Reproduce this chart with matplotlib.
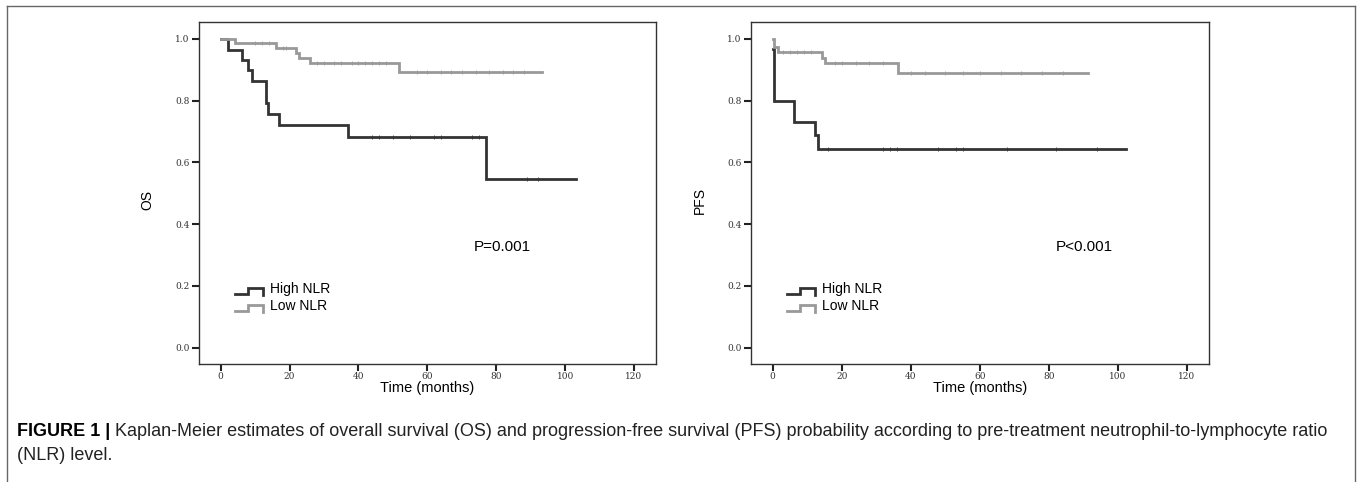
import numpy as np
import matplotlib
matplotlib.use("Agg")
import matplotlib.pyplot as plt
from matplotlib.lines import Line2D

# === data: Kaplan-Meier step curves (time in months, survival probability) ===
os_high_t = [0, 2.0, 6.1, 8.0, 9.0, 13.2, 13.8, 16.9, 37.1, 77.0, 103.2]
os_high_s = [1.0, 0.964, 0.932, 0.900, 0.864, 0.792, 0.756, 0.720, 0.681, 0.545, 0.545]
os_low_t = [0, 4.1, 16.1, 22.0, 22.8, 25.9, 51.9, 93.2]
os_low_s = [1.0, 0.988, 0.972, 0.954, 0.937, 0.921, 0.892, 0.892]

pfs_high_t = [0, 0.3, 6.1, 12.1, 13.1, 102.3]
pfs_high_s = [0.967, 0.800, 0.732, 0.689, 0.643, 0.643]
pfs_low_t = [0, 0.3, 1.5, 14.2, 15.0, 36.3, 91.3]
pfs_low_s = [1.0, 0.975, 0.959, 0.939, 0.921, 0.891, 0.891]

# censor marks (months)
os_high_cens = [44, 46, 50, 55, 62, 64, 73, 75, 89, 92]
os_low_cens = [10, 12, 14, 18, 19, 28, 30, 33, 35, 38, 40, 42, 44, 46, 48, 57, 60, 64, 67, 70, 74, 78, 82, 85, 88]
pfs_high_cens = [16, 32, 34, 36, 48, 53, 55, 68, 82, 94]
pfs_low_cens = [3, 5, 7, 9, 11, 18, 20, 24, 28, 32, 40, 44, 50, 55, 60, 66, 72, 78, 84]

panels = [
    ("OS", "P=0.001", (os_high_t, os_high_s, os_high_cens), (os_low_t, os_low_s, os_low_cens), 73.5),
    ("PFS", "P<0.001", (pfs_high_t, pfs_high_s, pfs_high_cens), (pfs_low_t, pfs_low_s, pfs_low_cens), 82.0),
]
group_labels = ["High NLR", "Low NLR"]
colors = ["#333333", "#999999"]
xticks = [0, 20, 40, 60, 80, 100, 120]
yticks = [0.0, 0.2, 0.4, 0.6, 0.8, 1.0]

W, H = 1358, 482
fig = plt.figure(figsize=(W / 100, H / 100), dpi=100)

axes_px = [(199, 22, 656, 364), (751, 22, 1209, 364)]
ylab_x = [147, 700]


def censor_y(ts, ss, c):
    idx = np.searchsorted(ts, c, side="right") - 1
    return ss[idx]


for k, (ylab, ptxt, high, low, px) in enumerate(panels):
    l, t, r, b = axes_px[k]
    ax = fig.add_axes([l / W, 1 - b / H, (r - l) / W, (b - t) / H])

    # dark curve first, grey drawn on top where they meet at t=0
    for (ts, ss, cens), col in [(high, colors[0]), (low, colors[1])]:
        ax.step(ts, ss, where="post", color=col, lw=2.0, solid_joinstyle="miter")
        cy = [censor_y(ts, ss, c) for c in cens]
        ax.plot(cens, cy, ls="none", marker="|", ms=3, mew=0.6, color=col)

    ax.set_xlim(-6.3, 126.4)
    ax.set_ylim(-0.053, 1.055)
    ax.set_xticks(xticks)
    ax.set_yticks(yticks)
    ax.set_xticklabels([str(v) for v in xticks], family="DejaVu Serif", fontsize=6.5, color="#333333")
    ax.set_yticklabels([f"{v:.1f}" for v in yticks], family="DejaVu Serif", fontsize=6.5, color="#333333")
    ax.tick_params(direction="out", length=5, width=1.5, color="#222222", pad=2)
    ax.tick_params(axis="x", pad=1)
    ax.tick_params(top=False, right=False)
    for sp in ax.spines.values():
        sp.set_linewidth(1.0)
        sp.set_color("#333333")

    ax.set_xlabel("Time (months)", family="Liberation Sans", fontsize=10.5, labelpad=0)
    fig.text(ylab_x[k] / W, 1 - 200 / H, ylab, rotation=90, family="Liberation Sans",
             fontsize=10, ha="center", va="center")

    ax.text(px, 0.326, ptxt, family="Liberation Sans", fontsize=11, ha="left", va="center")

    # legend with step-shaped keys
    for j, (lab, col) in enumerate(zip(group_labels, colors)):
        lo = 0.173 - 0.053 * j
        hi = lo + 0.019
        ax.plot([4.1, 8.0, 8.0, 12.2, 12.2], [lo, lo, hi, hi, lo - 0.004], color=col, lw=2.0,
                solid_joinstyle="miter")
        ax.text(14.2, lo + 0.016, lab, family="Liberation Sans", fontsize=10, ha="left", va="center")

# outer frame of the figure panel
fx0, fx1, fy = 7 / W, 1355 / W, 1 - 6 / H
for xs, ys in [([fx0, fx0], [0, fy]), ([fx0, fx1], [fy, fy]), ([fx1, fx1], [fy, 0])]:
    fig.add_artist(Line2D(xs, ys, color="#666666", lw=1.0, transform=fig.transFigure))

# caption
cap_size = 13
head = fig.text(17 / W, 1 - 431 / H, "FIGURE 1 |", family="Liberation Sans", fontweight="bold",
                fontsize=cap_size, ha="left", va="center")
renderer = fig.canvas.get_renderer()
hx = head.get_window_extent(renderer).x1
fig.text((hx + 5) / W, 1 - 431 / H,
         "Kaplan-Meier estimates of overall survival (OS) and progression-free survival (PFS) "
         "probability according to pre-treatment neutrophil-to-lymphocyte ratio",
         family="Liberation Sans", fontsize=cap_size, ha="left", va="center", color="#222222")
fig.text(17 / W, 1 - 456 / H, "(NLR) level.", family="Liberation Sans", fontsize=cap_size,
         ha="left", va="center", color="#222222")

fig.savefig("out.png", dpi=100)
